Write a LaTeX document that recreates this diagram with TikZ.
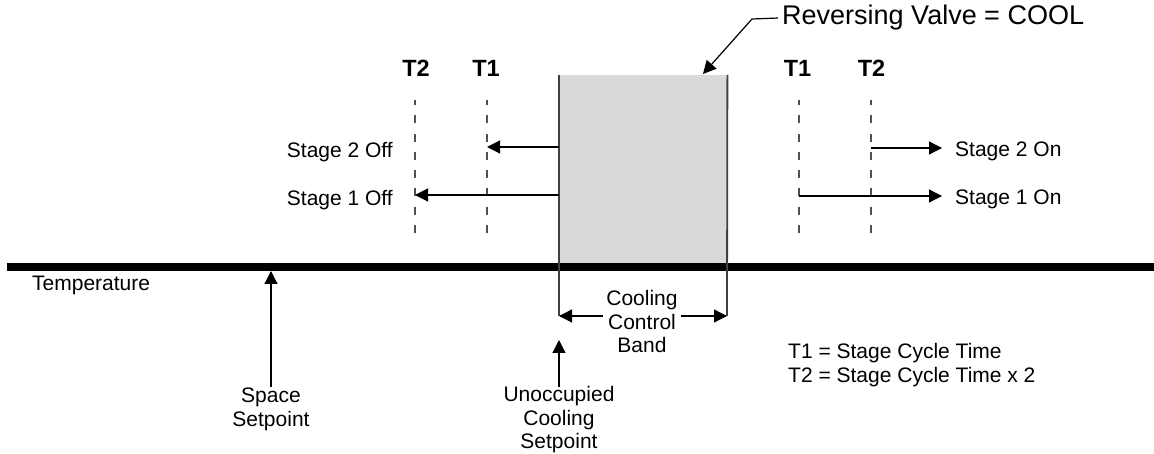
\documentclass[tikz,border=0pt]{standalone}
\usepackage{fontspec}
\setmainfont{Liberation Sans}
\usetikzlibrary{arrows.meta}
\definecolor{boxgray}{HTML}{D9D9D9}
\definecolor{linegray}{HTML}{404040}
\definecolor{dashgray}{HTML}{505050}
\tikzset{
  lbl/.style={font=\fontsize{21bp}{23.5bp}\selectfont, inner sep=0pt},
  tlbl/.style={font=\fontsize{23.5bp}{25bp}\selectfont\bfseries, inner sep=0pt, anchor=base},
  arr/.style={-{Triangle[length=13bp,width=13bp]}, line width=1.2bp, draw=black},
  timeline/.style={draw=dashgray, line width=2bp, dash pattern=on 8bp off 10.3bp, dash phase=3bp},
  bandedge/.style={draw=linegray, line width=1.8bp},
}
\begin{document}
\begin{tikzpicture}[x=1bp,y=-1bp]
\useasboundingbox (0,0) rectangle (1154,454);
% control band
\node[fill=boxgray, draw=none, minimum width=168bp, minimum height=192bp, inner sep=0pt, anchor=north west] (band) at (559,75) {};
% temperature axis
\coordinate (axL) at (7,267);
\coordinate (axR) at (1154,267);
\draw[line width=8bp] (axL) -- (axR);
% band edges, extended down as dimension lines
\coordinate (bandLbot) at (559,316);
\coordinate (bandRbot) at (727,316);
\draw[bandedge] (band.north west) -- (bandLbot);
\draw[bandedge] (band.north east) -- (bandRbot);
% time lines
\coordinate (t2Ltop) at (415,100); \coordinate (t2Lbot) at (415,243);
\coordinate (t1Ltop) at (487,100); \coordinate (t1Lbot) at (487,243);
\coordinate (t1Rtop) at (799,100); \coordinate (t1Rbot) at (799,243);
\coordinate (t2Rtop) at (871,100); \coordinate (t2Rbot) at (871,243);
\draw[timeline] (t2Ltop) -- (t2Lbot);
\draw[timeline] (t1Ltop) -- (t1Lbot);
\draw[timeline] (t1Rtop) -- (t1Rbot);
\draw[timeline] (t2Rtop) -- (t2Rbot);
% T labels
\node[tlbl] (lT2L) at (416,76.5) {T2};
\node[tlbl] (lT1L) at (486,76.5) {T1};
\node[tlbl] (lT1R) at (797.5,76.5) {T1};
\node[tlbl] (lT2R) at (871.5,76.5) {T2};
% stage labels
\node[lbl, anchor=base east] (s2off) at (393,157.5) {Stage 2 Off};
\node[lbl, anchor=base east] (s1off) at (393,205.5) {Stage 1 Off};
\node[lbl, anchor=base west] (s2on) at (955,157) {Stage 2 On};
\node[lbl, anchor=base west] (s1on) at (955,205) {Stage 1 On};
% stage arrows
\coordinate (off2a) at (559,147); \coordinate (off2b) at (487,147);
\coordinate (off1a) at (559,195); \coordinate (off1b) at (415,195);
\coordinate (on2a) at (871,148); \coordinate (on2b) at (942,148);
\coordinate (on1a) at (799,196); \coordinate (on1b) at (942,196);
\draw[arr] (off2a) -- (off2b);
\draw[arr] (off1a) -- (off1b);
\draw[arr] (on2a) -- (on2b);
\draw[arr] (on1a) -- (on1b);
% reversing valve label and leader
\node[font=\fontsize{27bp}{30bp}\selectfont, inner sep=0pt, anchor=base west] (rv) at (782,25) {Reversing Valve = COOL};
\coordinate (rvbend) at (752,19);
\coordinate (rvtip) at (703,74);
\draw[arr] ([xshift=-4bp]rv.west) -- (rvbend) -- (rvtip);
% cooling control band dimension
\draw[arr, {Triangle[length=13bp,width=13bp]}-{Triangle[length=13bp,width=13bp]}] (bandLbot) -- (bandRbot);
\node[lbl, align=center, anchor=base, fill=white, inner sep=3bp] (bandtxt) at (642,353) {Cooling\\Control\\Band};
% temperature
\node[lbl, anchor=base west] (temp) at (32,291) {Temperature};
% space setpoint
\node[lbl, align=center, anchor=base] (space) at (271,426.5) {Space\\Setpoint};
\coordinate (spacetip) at (271,271);
\coordinate (spacebase) at (271,387);
\draw[arr] (spacebase) -- (spacetip);
% unoccupied cooling setpoint
\node[lbl, align=center, anchor=base] (unocc) at (559,449) {Unoccupied\\Cooling\\Setpoint};
\coordinate (unocctip) at (559,340);
\coordinate (unoccbase) at (559,387);
\draw[arr] (unoccbase) -- (unocctip);
% legend
\node[lbl, anchor=base west, align=left] (legend) at (788,382.5) {T1 = Stage Cycle Time\\T2 = Stage Cycle Time x 2};
\end{tikzpicture}
\end{document}
